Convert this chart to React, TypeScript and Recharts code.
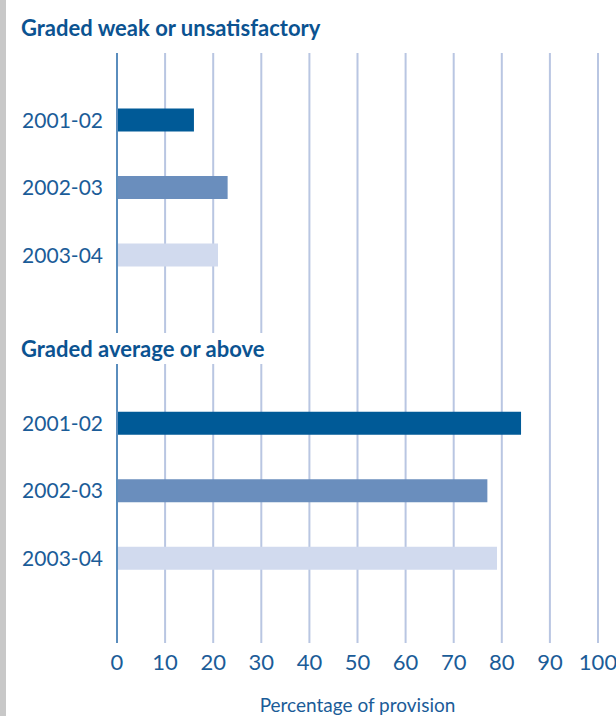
import React from "react"
import { BarChart, Bar, XAxis, YAxis, CartesianGrid, Cell } from "recharts"

const years = ["2001-02", "2002-03", "2003-04"]
const weakValues = [16, 23, 21]
const aboveValues = [84, 77, 79]
const xTicks = [0, 10, 20, 30, 40, 50, 60, 70, 80, 90, 100]
const barColors = ["#005a97", "#6a8ebd", "#d1daee"]

const font = "Lato, 'Open Sans', sans-serif"
const textBlue = "#1b5c98"
const titleBlue = "#0b5391"
const gridColor = "#b9c6e2"
const axisColor = "#5a8dbd"

const weakData = years.map((y, i) => ({ year: y, value: weakValues[i] }))
const aboveData = years.map((y, i) => ({ year: y, value: aboveValues[i] }))

function Section({
  data,
  height,
  top,
  padding,
  showAxis,
}: {
  data: Array<{ year: string; value: number }>
  height: number
  top: number
  padding: { top: number; bottom: number }
  showAxis: boolean
}) {
  return (
    <BarChart
      width={616}
      height={height}
      data={data}
      layout="vertical"
      margin={{ top, right: 18, left: 0, bottom: showAxis ? 43 : 0 }}
    >
      <CartesianGrid horizontal={false} stroke={gridColor} strokeWidth={2} />
      <XAxis
        type="number"
        domain={[0, 100]}
        ticks={xTicks}
        hide={!showAxis}
        height={showAxis ? 30 : 0}
        axisLine={false}
        tickLine={false}
        tickMargin={5}
        interval={0}
        tick={{ fontSize: 22, fill: textBlue, fontFamily: font }}
        label={
          showAxis
            ? {
                value: "Percentage of provision",
                position: "bottom",
                offset: 26,
                fill: textBlue,
                fontSize: 19,
                fontFamily: font,
              }
            : undefined
        }
      />
      <YAxis
        type="category"
        dataKey="year"
        width={117}
        padding={padding}
        axisLine={{ stroke: axisColor, strokeWidth: 2 }}
        tickLine={false}
        tickMargin={8}
        tick={{ fontSize: 21, fill: textBlue, fontFamily: font }}
      />
      <Bar dataKey="value" barSize={23} isAnimationActive={false}>
        {data.map((d, i) => (
          <Cell key={d.year} fill={barColors[i]} />
        ))}
      </Bar>
    </BarChart>
  )
}

export default function App() {
  const titleStyle: React.CSSProperties = {
    position: "absolute",
    left: 18,
    paddingLeft: 3,
    paddingRight: 14,
    background: "#fff",
    color: titleBlue,
    fontFamily: font,
    fontWeight: 700,
    fontSize: 22,
    whiteSpace: "nowrap",
  }
  return (
    <div
      style={{
        position: "absolute",
        left: 0,
        top: 0,
        width: 616,
        height: 716,
        background: "#fff",
        overflow: "hidden",
      }}
    >
      <div style={{ position: "absolute", left: 0, top: 0, width: 6, height: 716, background: "#c8c8c8" }} />
      <div style={{ position: "absolute", left: 0, top: 0 }}>
        <Section data={weakData} height={364} top={53} padding={{ top: 33.5, bottom: 75 }} showAxis={false} />
      </div>
      <div style={{ position: "absolute", left: 0, top: 333 }}>
        <Section data={aboveData} height={383} top={31} padding={{ top: 25.75, bottom: 50.75 }} showAxis={true} />
      </div>
      <div style={{ ...titleStyle, top: 13, height: 30, lineHeight: "30px" }}>Graded weak or unsatisfactory</div>
      <div style={{ ...titleStyle, top: 333, height: 31, lineHeight: "31px" }}>Graded average or above</div>
    </div>
  )
}
